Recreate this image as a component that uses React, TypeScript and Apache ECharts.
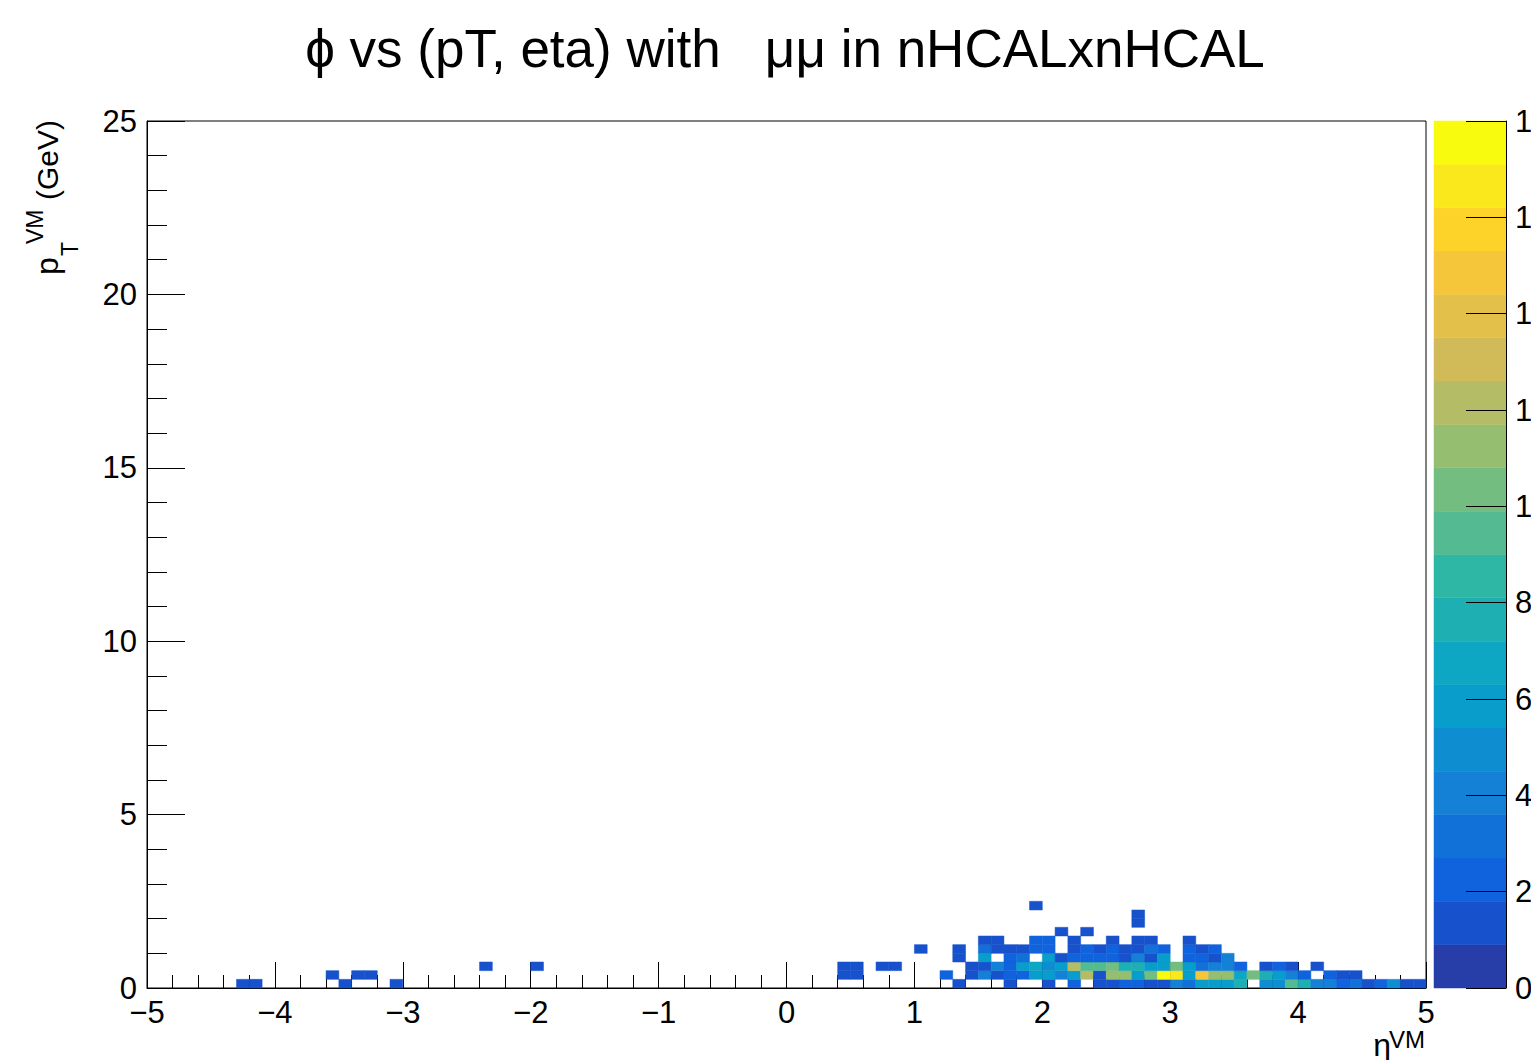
import React, { useEffect, useRef } from "react";
import * as echarts from "echarts";

// ---------------- data ----------------
const TITLE = "ϕ vs (pT, eta) with   μμ in nHCALxnHCAL";
const ETA_MIN = -5;
const ETA_MAX = 5;
const ETA_BIN = 0.1;
const PT_MIN = 0;
const PT_MAX = 25;
const PT_BIN = 0.25;
const Z_MAX = 18;

// counts per eta bin (100 bins, -5..5) for each pT row (0.25 GeV each)
const ptRow0 = [
  0, 0, 0, 0, 0, 0, 0, 1, 1, 0,
  0, 0, 0, 0, 0, 1, 0, 0, 0, 1,
  0, 0, 0, 0, 0, 0, 0, 0, 0, 0,
  0, 0, 0, 0, 0, 0, 0, 0, 0, 0,
  0, 0, 0, 0, 0, 0, 0, 0, 0, 0,
  0, 0, 0, 0, 0, 0, 0, 0, 0, 0,
  0, 0, 0, 1, 0, 0, 0, 1, 0, 0,
  1, 0, 2, 0, 1, 1, 2, 2, 1, 1,
  4, 3, 6, 6, 6, 8, 0, 5, 5, 9,
  8, 4, 4, 2, 3, 1, 2, 5, 1, 1,
];
const ptRow1 = [
  0, 0, 0, 0, 0, 0, 0, 0, 0, 0,
  0, 0, 0, 0, 1, 0, 1, 1, 0, 0,
  0, 0, 0, 0, 0, 0, 0, 0, 0, 0,
  0, 0, 0, 0, 0, 0, 0, 0, 0, 0,
  0, 0, 0, 0, 0, 0, 0, 0, 0, 0,
  0, 0, 0, 0, 1, 1, 0, 0, 0, 0,
  0, 0, 2, 0, 1, 4, 1, 2, 2, 6,
  6, 4, 6, 12, 1, 11, 11, 6, 10, 18,
  17, 6, 15, 11, 11, 7, 10, 8, 6, 4,
  2, 0, 2, 1, 1, 0, 0, 0, 0, 0,
];
const ptRow2 = [
  0, 0, 0, 0, 0, 0, 0, 0, 0, 0,
  0, 0, 0, 0, 0, 0, 0, 0, 0, 0,
  0, 0, 0, 0, 0, 0, 1, 0, 0, 0,
  1, 0, 0, 0, 0, 0, 0, 0, 0, 0,
  0, 0, 0, 0, 0, 0, 0, 0, 0, 0,
  0, 0, 0, 0, 1, 1, 0, 1, 1, 0,
  0, 0, 0, 0, 1, 1, 4, 2, 6, 7,
  5, 6, 12, 9, 9, 10, 8, 8, 6, 6,
  10, 6, 3, 4, 4, 2, 0, 1, 2, 1,
  0, 1, 0, 0, 0, 0, 0, 0, 0, 0,
];
const ptRow3 = [
  0, 0, 0, 0, 0, 0, 0, 0, 0, 0,
  0, 0, 0, 0, 0, 0, 0, 0, 0, 0,
  0, 0, 0, 0, 0, 0, 0, 0, 0, 0,
  0, 0, 0, 0, 0, 0, 0, 0, 0, 0,
  0, 0, 0, 0, 0, 0, 0, 0, 0, 0,
  0, 0, 0, 0, 0, 0, 0, 0, 0, 0,
  0, 0, 0, 1, 0, 6, 0, 2, 3, 0,
  6, 1, 2, 2, 2, 2, 1, 4, 1, 6,
  0, 2, 2, 1, 4, 0, 0, 0, 0, 0,
  0, 0, 0, 0, 0, 0, 0, 0, 0, 0,
];
const ptRow4 = [
  0, 0, 0, 0, 0, 0, 0, 0, 0, 0,
  0, 0, 0, 0, 0, 0, 0, 0, 0, 0,
  0, 0, 0, 0, 0, 0, 0, 0, 0, 0,
  0, 0, 0, 0, 0, 0, 0, 0, 0, 0,
  0, 0, 0, 0, 0, 0, 0, 0, 0, 0,
  0, 0, 0, 0, 0, 0, 0, 0, 0, 0,
  1, 0, 0, 1, 0, 3, 1, 1, 1, 2,
  2, 0, 1, 2, 1, 2, 1, 1, 3, 2,
  0, 2, 1, 2, 0, 0, 0, 0, 0, 0,
  0, 0, 0, 0, 0, 0, 0, 0, 0, 0,
];
const ptRow5 = [
  0, 0, 0, 0, 0, 0, 0, 0, 0, 0,
  0, 0, 0, 0, 0, 0, 0, 0, 0, 0,
  0, 0, 0, 0, 0, 0, 0, 0, 0, 0,
  0, 0, 0, 0, 0, 0, 0, 0, 0, 0,
  0, 0, 0, 0, 0, 0, 0, 0, 0, 0,
  0, 0, 0, 0, 0, 0, 0, 0, 0, 0,
  0, 0, 0, 0, 0, 1, 1, 0, 0, 2,
  2, 0, 1, 0, 0, 1, 0, 1, 1, 0,
  0, 1, 0, 0, 0, 0, 0, 0, 0, 0,
  0, 0, 0, 0, 0, 0, 0, 0, 0, 0,
];
const ptRow6 = [
  0, 0, 0, 0, 0, 0, 0, 0, 0, 0,
  0, 0, 0, 0, 0, 0, 0, 0, 0, 0,
  0, 0, 0, 0, 0, 0, 0, 0, 0, 0,
  0, 0, 0, 0, 0, 0, 0, 0, 0, 0,
  0, 0, 0, 0, 0, 0, 0, 0, 0, 0,
  0, 0, 0, 0, 0, 0, 0, 0, 0, 0,
  0, 0, 0, 0, 0, 0, 0, 0, 0, 0,
  0, 1, 0, 1, 0, 0, 0, 0, 0, 0,
  0, 0, 0, 0, 0, 0, 0, 0, 0, 0,
  0, 0, 0, 0, 0, 0, 0, 0, 0, 0,
];
const ptRow7 = [
  0, 0, 0, 0, 0, 0, 0, 0, 0, 0,
  0, 0, 0, 0, 0, 0, 0, 0, 0, 0,
  0, 0, 0, 0, 0, 0, 0, 0, 0, 0,
  0, 0, 0, 0, 0, 0, 0, 0, 0, 0,
  0, 0, 0, 0, 0, 0, 0, 0, 0, 0,
  0, 0, 0, 0, 0, 0, 0, 0, 0, 0,
  0, 0, 0, 0, 0, 0, 0, 0, 0, 0,
  0, 0, 0, 0, 0, 0, 0, 1, 0, 0,
  0, 0, 0, 0, 0, 0, 0, 0, 0, 0,
  0, 0, 0, 0, 0, 0, 0, 0, 0, 0,
];
const ptRow8 = [
  0, 0, 0, 0, 0, 0, 0, 0, 0, 0,
  0, 0, 0, 0, 0, 0, 0, 0, 0, 0,
  0, 0, 0, 0, 0, 0, 0, 0, 0, 0,
  0, 0, 0, 0, 0, 0, 0, 0, 0, 0,
  0, 0, 0, 0, 0, 0, 0, 0, 0, 0,
  0, 0, 0, 0, 0, 0, 0, 0, 0, 0,
  0, 0, 0, 0, 0, 0, 0, 0, 0, 0,
  0, 0, 0, 0, 0, 0, 0, 1, 0, 0,
  0, 0, 0, 0, 0, 0, 0, 0, 0, 0,
  0, 0, 0, 0, 0, 0, 0, 0, 0, 0,
];
const ptRow9 = [
  0, 0, 0, 0, 0, 0, 0, 0, 0, 0,
  0, 0, 0, 0, 0, 0, 0, 0, 0, 0,
  0, 0, 0, 0, 0, 0, 0, 0, 0, 0,
  0, 0, 0, 0, 0, 0, 0, 0, 0, 0,
  0, 0, 0, 0, 0, 0, 0, 0, 0, 0,
  0, 0, 0, 0, 0, 0, 0, 0, 0, 0,
  0, 0, 0, 0, 0, 0, 0, 0, 0, 1,
  0, 0, 0, 0, 0, 0, 0, 0, 0, 0,
  0, 0, 0, 0, 0, 0, 0, 0, 0, 0,
  0, 0, 0, 0, 0, 0, 0, 0, 0, 0,
];
const ptRows = [ptRow0, ptRow1, ptRow2, ptRow3, ptRow4, ptRow5, ptRow6, ptRow7, ptRow8, ptRow9];

// 20 colour contours (ROOT kBird)
const contourLevels = [
  0, 0.9, 1.8, 2.7, 3.6, 4.5, 5.4, 6.3, 7.2, 8.1, 9,
  9.9, 10.8, 11.7, 12.6, 13.5, 14.4, 15.3, 16.2, 17.1, 18,
];
const paletteColors = [
  "#273da8", "#1751cb", "#1063dc", "#1271d9", "#1480d6",
  "#0e8ed1", "#099dcc", "#0da7c3", "#1eafb3", "#2eb7a4",
  "#53ba91", "#74bd80", "#96be71", "#b4bd65", "#d1bb59",
  "#e3c04a", "#f5c63a", "#fdd32a", "#fbe81c", "#f9fb0e",
];

const FONT = "'Liberation Sans', Arial, Helvetica, sans-serif";

function fmtMinus(v: number) {
  return v < 0 ? "\u2212" + Math.abs(v) : String(v);
}

export default function App() {
  const ref = useRef<HTMLDivElement>(null);

  useEffect(() => {
    if (!ref.current) return;
    const chart = echarts.init(ref.current, undefined, { renderer: "svg" });

    const cells: number[][] = [];
    ptRows.forEach((row, j) => {
      row.forEach((v, i) => {
        if (v > 0) cells.push([ETA_MIN + i * ETA_BIN, PT_MIN + j * PT_BIN, v]);
      });
    });

    const bands = paletteColors.map((c, k) => [contourLevels[k], contourLevels[k + 1], k]);

    const pieces = paletteColors.map((c, k) => {
      const p: any = { gte: contourLevels[k], color: c };
      if (k < paletteColors.length - 1) p.lt = contourLevels[k + 1];
      else p.lte = contourLevels[k + 1];
      return p;
    });

    const labelStyle = { color: "#000", fontSize: 31, fontFamily: FONT };

    chart.setOption({
      animation: false,
      backgroundColor: "#fff",
      grid: [
        {
          left: 147, top: 121, width: 1279, height: 867,
          show: true, borderColor: "#000", borderWidth: 1, backgroundColor: "transparent",
          containLabel: false, outerBoundsMode: "none",
        },
        {
          left: 1434, top: 121, width: 72, height: 867, show: false,
          containLabel: false, outerBoundsMode: "none",
        },
      ],
      xAxis: [
        {
          type: "value", gridIndex: 0, min: ETA_MIN, max: ETA_MAX, interval: 1,
          axisLine: { show: true, onZero: false, lineStyle: { color: "#000", width: 1 } },
          axisTick: { show: true, inside: true, length: 26, lineStyle: { color: "#000", width: 1 } },
          minorTick: { show: true, splitNumber: 5, length: 13, lineStyle: { color: "#000", width: 1 } },
          splitLine: { show: false },
          axisLabel: { ...labelStyle, margin: 9, formatter: (v: number) => fmtMinus(v) },
        },
        { type: "value", gridIndex: 1, min: 0, max: 1, show: false },
      ],
      yAxis: [
        {
          type: "value", gridIndex: 0, min: PT_MIN, max: PT_MAX, interval: 5,
          axisLine: { show: true, onZero: false, lineStyle: { color: "#000", width: 1 } },
          axisTick: { show: true, inside: true, length: 38, lineStyle: { color: "#000", width: 1 } },
          minorTick: { show: true, splitNumber: 5, length: 20, lineStyle: { color: "#000", width: 1 } },
          splitLine: { show: false },
          axisLabel: { ...labelStyle, margin: 10 },
        },
        {
          type: "value", gridIndex: 1, min: 0, max: Z_MAX, interval: 2, position: "right",
          z: 10,
          axisLine: { show: true, onZero: false, lineStyle: { color: "#000", width: 1 } },
          axisTick: { show: true, inside: true, length: 40, lineStyle: { color: "#000", width: 1 } },
          splitLine: { show: false },
          axisLabel: { ...labelStyle, margin: 9 },
        },
      ],
      visualMap: {
        type: "piecewise", show: false, seriesIndex: 0, dimension: 2, pieces,
      },
      series: [
        {
          type: "custom",
          xAxisIndex: 0, yAxisIndex: 0,
          data: cells,
          renderItem: (params: any, api: any) => {
            const x = api.value(0);
            const y = api.value(1);
            const p0 = api.coord([x, y]);
            const p1 = api.coord([x + ETA_BIN, y + PT_BIN]);
            const color = api.visual("color");
            return {
              type: "rect",
              shape: { x: p0[0], y: p1[1], width: p1[0] - p0[0], height: p0[1] - p1[1] },
              style: { fill: color, stroke: color, lineWidth: 0.5 },
            };
          },
          z: 1,
        },
        {
          type: "custom",
          xAxisIndex: 1, yAxisIndex: 1,
          data: bands,
          renderItem: (params: any, api: any) => {
            const lo = api.value(0);
            const hi = api.value(1);
            const k = api.value(2);
            const p0 = api.coord([0, lo]);
            const p1 = api.coord([1, hi]);
            const color = paletteColors[k];
            return {
              type: "rect",
              shape: { x: p0[0], y: p1[1], width: p1[0] - p0[0], height: p0[1] - p1[1] },
              style: { fill: color, stroke: color, lineWidth: 0.5 },
            };
          },
          z: 1,
        },
      ],
      graphic: [
        {
          type: "text", x: 785, y: 48, z: 10,
          style: {
            text: TITLE, fill: "#000", font: `53px ${FONT}`,
            align: "center", verticalAlign: "middle",
          },
        },
        {
          type: "group", x: 58, y: 275, rotation: Math.PI / 2, z: 10,
          children: [
            { type: "text", x: 0, y: -11, style: { text: "p", fill: "#000", font: `32px ${FONT}`, align: "left", verticalAlign: "middle" } },
            { type: "text", x: 19, y: 12, style: { text: "T", fill: "#000", font: `23px ${FONT}`, align: "left", verticalAlign: "middle" } },
            { type: "text", x: 31, y: -23, style: { text: "VM", fill: "#000", font: `23px ${FONT}`, align: "left", verticalAlign: "middle" } },
            { type: "text", x: 75, y: -11, style: { text: "(GeV)", fill: "#000", font: `30px ${FONT}`, align: "left", verticalAlign: "middle" } },
          ],
        },
        {
          type: "text", x: 1391, y: 1045, z: 10,
          style: { text: "η", fill: "#000", font: `32px ${FONT}`, align: "right", verticalAlign: "middle" },
        },
        {
          type: "text", x: 1425, y: 1039, z: 10,
          style: { text: "VM", fill: "#000", font: `24px ${FONT}`, align: "right", verticalAlign: "middle" },
        },
      ],
    });

    return () => chart.dispose();
  }, []);

  return (
    <div
      ref={ref}
      style={{ position: "fixed", left: 0, top: 0, width: 1531, height: 1060, background: "#fff" }}
    />
  );
}
